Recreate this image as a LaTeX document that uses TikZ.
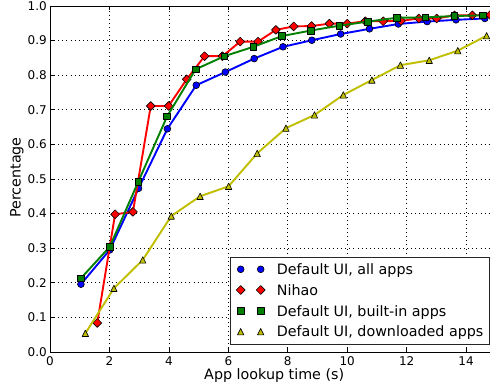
\documentclass[tikz,border=0pt]{standalone}
\usepackage{fontspec}
\setmainfont{DejaVu Sans}
\usetikzlibrary{plotmarks}
\definecolor{mplgreen}{rgb}{0,0.5,0}
\definecolor{mplyellow}{rgb}{0.75,0.75,0}
\pgfdeclareplotmark{mpldiamond}{%
  \pgfpathmoveto{\pgfqpoint{0pt}{\pgfplotmarksize}}%
  \pgfpathlineto{\pgfqpoint{\pgfplotmarksize}{0pt}}%
  \pgfpathlineto{\pgfqpoint{0pt}{-\pgfplotmarksize}}%
  \pgfpathlineto{\pgfqpoint{-\pgfplotmarksize}{0pt}}%
  \pgfpathclose
  \pgfusepathqfillstroke}
\pgfdeclareplotmark{mplsquare}{%
  \pgfpathrectanglecorners{\pgfqpoint{-\pgfplotmarksize}{-\pgfplotmarksize}}{\pgfqpoint{\pgfplotmarksize}{\pgfplotmarksize}}%
  \pgfusepathqfillstroke}
\pgfdeclareplotmark{mpltriangle}{%
  \pgfpathmoveto{\pgfqpoint{0pt}{\pgfplotmarksize}}%
  \pgfpathlineto{\pgfqpoint{\pgfplotmarksize}{-\pgfplotmarksize}}%
  \pgfpathlineto{\pgfqpoint{-\pgfplotmarksize}{-\pgfplotmarksize}}%
  \pgfpathclose
  \pgfusepathqfillstroke}
\tikzset{
  gridline/.style={black, line width=0.6pt, dash pattern=on 0.9pt off 3.2pt},
  spine/.style={black, line width=0.9pt},
  tickmark/.style={black, line width=0.7pt},
  ticklabel/.style={inner sep=0pt, font=\fontsize{12}{14}\selectfont, text=black},
  axislabel/.style={inner sep=0pt, font=\fontsize{14.3}{17}\selectfont, text=black},
  legtext/.style={inner sep=0pt, font=\fontsize{14.3}{17}\selectfont, text=black, anchor=base west},
  blueline/.style={blue, line width=1.9pt, line join=round, mark=*, mark size=3.4pt,
    mark options={draw=black, fill=blue, line width=0.6pt, solid}},
  redline/.style={red, line width=1.9pt, line join=round, mark=mpldiamond, mark size=4.4pt,
    mark options={draw=black, fill=red, line width=0.6pt, solid}},
  greenline/.style={mplgreen, line width=1.9pt, line join=round, mark=mplsquare, mark size=3.3pt,
    mark options={draw=black, fill=mplgreen, line width=0.6pt, solid}},
  yellowline/.style={mplyellow, line width=1.9pt, line join=round, mark=mpltriangle, mark size=3.2pt,
    mark options={draw=black, fill=mplyellow, line width=0.6pt, solid}},
}
\begin{document}
\begin{tikzpicture}[x=1pt,y=1pt]
\useasboundingbox (0,0) rectangle (490,390);
\clip (0,0) rectangle (490,390);
\fill[white] (0,0) rectangle (490,390);
\begin{scope}[shift={(50pt,38pt)}, x=29.72pt, y=346pt]
  % grid
  \foreach \gx in {2,4,6,8,10,12,14} \draw[gridline] (\gx,0) -- (\gx,1);
  \foreach \gy in {0.1,0.2,0.3,0.4,0.5,0.6,0.7,0.8,0.9} \draw[gridline] (0,\gy) -- (15,\gy);
  % data
  \draw[blueline] plot coordinates {(1.04,0.196) (2.01,0.295) (2.98,0.473) (3.95,0.645) (4.92,0.771) (5.90,0.809) (6.87,0.848) (7.84,0.882) (8.81,0.901) (9.78,0.919) (10.75,0.934) (11.72,0.948) (12.69,0.955) (13.66,0.960) (14.63,0.964)};
  \draw[redline] plot coordinates {(1.59,0.084) (2.19,0.398) (2.79,0.405) (3.39,0.711) (3.99,0.711) (4.60,0.788) (5.20,0.855) (5.80,0.855) (6.40,0.897) (7.00,0.897) (7.60,0.931) (8.20,0.941) (8.80,0.942) (9.40,0.949) (10.00,0.949) (10.61,0.956) (11.21,0.956) (11.81,0.957) (12.41,0.964) (13.01,0.964) (13.61,0.973) (14.21,0.973) (14.81,0.974)};
  \draw[greenline] plot coordinates {(1.04,0.213) (2.01,0.304) (2.97,0.492) (3.94,0.681) (4.90,0.817) (5.87,0.855) (6.84,0.882) (7.80,0.913) (8.77,0.929) (9.73,0.943) (10.70,0.955) (11.67,0.966) (12.63,0.967) (13.60,0.971) (14.56,0.973)};
  \draw[yellowline] plot coordinates {(1.19,0.054) (2.15,0.184) (3.12,0.266) (4.08,0.393) (5.05,0.450) (6.01,0.479) (6.97,0.574) (7.94,0.647) (8.90,0.685) (9.87,0.743) (10.83,0.786) (11.79,0.829) (12.76,0.843) (13.72,0.871) (14.69,0.914)};
  % spines
  \draw[spine] (15,0) -- (0,0) -- (0,1) -- (15,1);
  % ticks
  \foreach \gx in {0,2,4,6,8,10,12,14} {
    \draw[tickmark] (\gx,0) -- ++(0,4.5pt);
    \draw[tickmark] (\gx,1) -- ++(0,-4.5pt);
    \node[ticklabel, anchor=base] (xt\gx) at ([yshift=-14pt]\gx,0) {\gx};
  }
  \foreach \gy/\lab in {0/0.0,0.1/0.1,0.2/0.2,0.3/0.3,0.4/0.4,0.5/0.5,0.6/0.6,0.7/0.7,0.8/0.8,0.9/0.9,1/1.0} {
    \draw[tickmark] (0,\gy) -- ++(4.5pt,0);
    \node[ticklabel, anchor=east] (yt\lab) at ([xshift=-3pt]0,\gy) {\lab};
  }
\end{scope}
% axis labels
\node[axislabel, anchor=base] (xlabel) at (274.2,10) {App lookup time (s)};
\node[axislabel, anchor=base, rotate=90] (ylabel) at (20.5,212.5) {Percentage};
% legend
\draw[fill=white, draw=black!85, line width=0.9pt] (230,46) rectangle (489.3,132.7);
\path[blueline] plot[only marks] coordinates {(240.7,120.7) (260.7,120.7)};
\path[redline] plot[only marks] coordinates {(240.7,100) (260.7,100)};
\path[greenline] plot[only marks] coordinates {(240.7,79) (260.7,79)};
\path[yellowline] plot[only marks] coordinates {(240.7,58.3) (260.7,58.3)};
\node[legtext] (leg1) at (276.7,115.4) {Default UI, all apps};
\node[legtext] (leg2) at (276.7,94.7) {Nihao};
\node[legtext] (leg3) at (276.7,73.7) {Default UI, built-in apps};
\node[legtext] (leg4) at (276.7,53.0) {Default UI, downloaded apps};
\end{tikzpicture}
\end{document}
